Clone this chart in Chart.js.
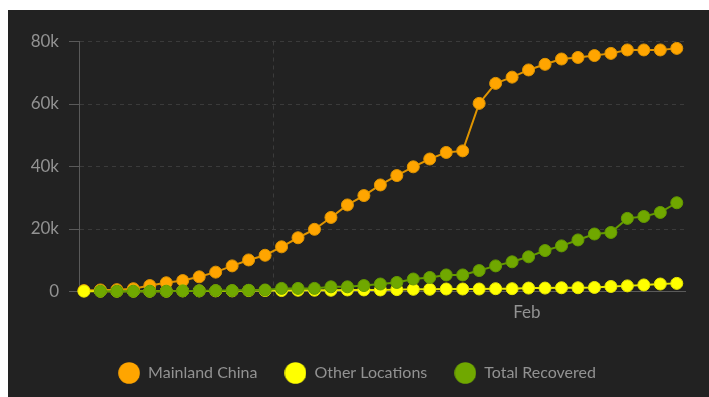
<!DOCTYPE html>
<html>
<head>
<meta charset="utf-8">
<script src="https://cdn.jsdelivr.net/npm/chart.js@4/dist/chart.umd.min.js"></script>
<style>
    html, body { margin: 0; padding: 0; background: #ffffff; }
    #panel { position: absolute; left: 8px; top: 10px; width: 701px; height: 387px; background: #222222; }
</style>
</head>
<body>
<div id="panel"><canvas id="trendChart"></canvas></div>
<script>
// daily values, Jan 20 .. Feb 25
var days = ['Jan 20', 'Jan 21', 'Jan 22', 'Jan 23', 'Jan 24', 'Jan 25', 'Jan 26', 'Jan 27', 'Jan 28', 'Jan 29',
    'Jan 30', 'Jan 31', 'Feb 1', 'Feb 2', 'Feb 3', 'Feb 4', 'Feb 5', 'Feb 6', 'Feb 7', 'Feb 8',
    'Feb 9', 'Feb 10', 'Feb 11', 'Feb 12', 'Feb 13', 'Feb 14', 'Feb 15', 'Feb 16', 'Feb 17', 'Feb 18',
    'Feb 19', 'Feb 20', 'Feb 21', 'Feb 22', 'Feb 23', 'Feb 24', 'Feb 25'];

var mainlandChina = [300, 500, 600, 900, 1900, 2800, 3500, 4700, 6200, 8200,
    10100, 11600, 14300, 17200, 19900, 23700, 27700, 30700, 34100, 37100,
    39900, 42400, 44500, 45000, 60200, 66600, 68600, 70900, 72700, 74400,
    74900, 75500, 76200, 77300, 77300, 77300, 77800];

var otherLocations = [100, 100, 100, 100, 100, 100, 200, 200, 200, 200,
    300, 300, 300, 400, 400, 400, 500, 500, 500, 600,
    700, 700, 800, 800, 800, 900, 900, 1100, 1100, 1200,
    1200, 1300, 1600, 1800, 2100, 2400, 2600];

var totalRecovered = [null, 100, 100, 100, 100, 100, 200, 200, 300, 300,
    400, 500, 1000, 1000, 1000, 1500, 1500, 1900, 2400, 2900,
    4000, 4500, 5300, 5300, 6700, 8200, 9500, 11100, 13100, 14600,
    16500, 18400, 18900, 23400, 24000, 25300, 28400];

var seriesNames = ['Mainland China', 'Other Locations', 'Total Recovered'];
var yTicks = [0, 20000, 40000, 60000, 80000];
var xGridAt = 11.5;          // month boundary line
var xLabelAt = 26.9;         // where the month name sits
var xLabelText = 'Feb';

(function() {
    'use strict';

    var fontFamily = "Lato, 'Open Sans', sans-serif";
    var textColor = '#929292';
    var gridColor = '#3b3b3b';
    var axisColor = '#5a5a5a';

    function toPoints(values) {
        return values.map(function(v, i) { return { x: i, y: v }; });
    }

    function makeDot(color) {
        var c = document.createElement('canvas');
        c.width = 22;
        c.height = 22;
        var g = c.getContext('2d');
        g.fillStyle = color;
        g.beginPath();
        g.arc(11, 11, 10.8, 0, Math.PI * 2);
        g.fill();
        return c;
    }

    var fills = ['#ffa500', '#ffff00', '#70a800'];
    var lines = ['#e09500', '#e6e600', '#649a00'];
    var dots = fills.map(makeDot);

    function series(idx, values, order) {
        return {
            label: seriesNames[idx],
            data: toPoints(values),
            order: order,
            borderColor: lines[idx],
            borderWidth: 2,
            backgroundColor: fills[idx],
            pointBackgroundColor: fills[idx],
            pointBorderColor: lines[idx],
            pointBorderWidth: 1,
            pointRadius: 6,
            pointHoverRadius: 6,
            spanGaps: false,
            clip: false
        };
    }

    var ctx = document.getElementById('trendChart').getContext('2d');
    new Chart(ctx, {
        type: 'line',
        data: {
            datasets: [
                series(0, mainlandChina, 2),
                series(1, otherLocations, 1),
                series(2, totalRecovered, 0)
            ]
        },
        options: {
            responsive: true,
            maintainAspectRatio: false,
            animation: false,
            events: [],
            layout: { padding: { left: 21, right: 24, top: 31.5, bottom: 6 } },
            plugins: {
                tooltip: { enabled: false },
                legend: {
                    position: 'bottom',
                    labels: {
                        color: textColor,
                        font: { size: 16, family: fontFamily },
                        usePointStyle: true,
                        pointStyleWidth: 22,
                        padding: 27,
                        generateLabels: function(chart) {
                            var items = Chart.defaults.plugins.legend.labels.generateLabels(chart);
                            items.sort(function(a, b) { return a.datasetIndex - b.datasetIndex; });
                            items.forEach(function(it) { it.pointStyle = dots[it.datasetIndex]; });
                            return items;
                        }
                    }
                }
            },
            scales: {
                x: {
                    type: 'linear',
                    min: -0.3,
                    max: 36.5,
                    afterFit: function(scale) { scale.height = 46.5; },
                    afterBuildTicks: function(scale) {
                        scale.ticks = [{ value: xGridAt }, { value: xLabelAt }];
                    },
                    grid: {
                        color: function(c) { return c.tick && c.tick.value === xGridAt ? gridColor : 'rgba(0,0,0,0)'; },
                        tickColor: function(c) { return c.tick && c.tick.value === xGridAt ? gridColor : 'rgba(0,0,0,0)'; },
                        tickLength: 6,
                        tickBorderDash: [4, 4]
                    },
                    border: { color: axisColor, width: 1, dash: [4, 4] },
                    ticks: {
                        color: textColor,
                        font: { size: 17, family: fontFamily },
                        padding: 5,
                        maxRotation: 0,
                        autoSkip: false,
                        callback: function(v) { return v === xLabelAt ? xLabelText : ''; }
                    }
                },
                y: {
                    min: 0,
                    max: 80000,
                    afterFit: function(scale) { scale.width = 50; },
                    afterBuildTicks: function(scale) {
                        scale.ticks = yTicks.map(function(v) { return { value: v }; });
                    },
                    grid: {
                        color: function(c) { return c.tick && c.tick.value === 0 ? 'rgba(0,0,0,0)' : gridColor; },
                        tickColor: axisColor,
                        tickLength: 10,
                        tickBorderDash: []
                    },
                    border: { color: axisColor, width: 1, dash: [4, 4] },
                    ticks: {
                        color: textColor,
                        font: { size: 17, family: fontFamily },
                        padding: 10,
                        callback: function(v) { return v === 0 ? '0' : (v / 1000) + 'k'; }
                    }
                }
            }
        }
    });
})();
</script>
</body>
</html>
